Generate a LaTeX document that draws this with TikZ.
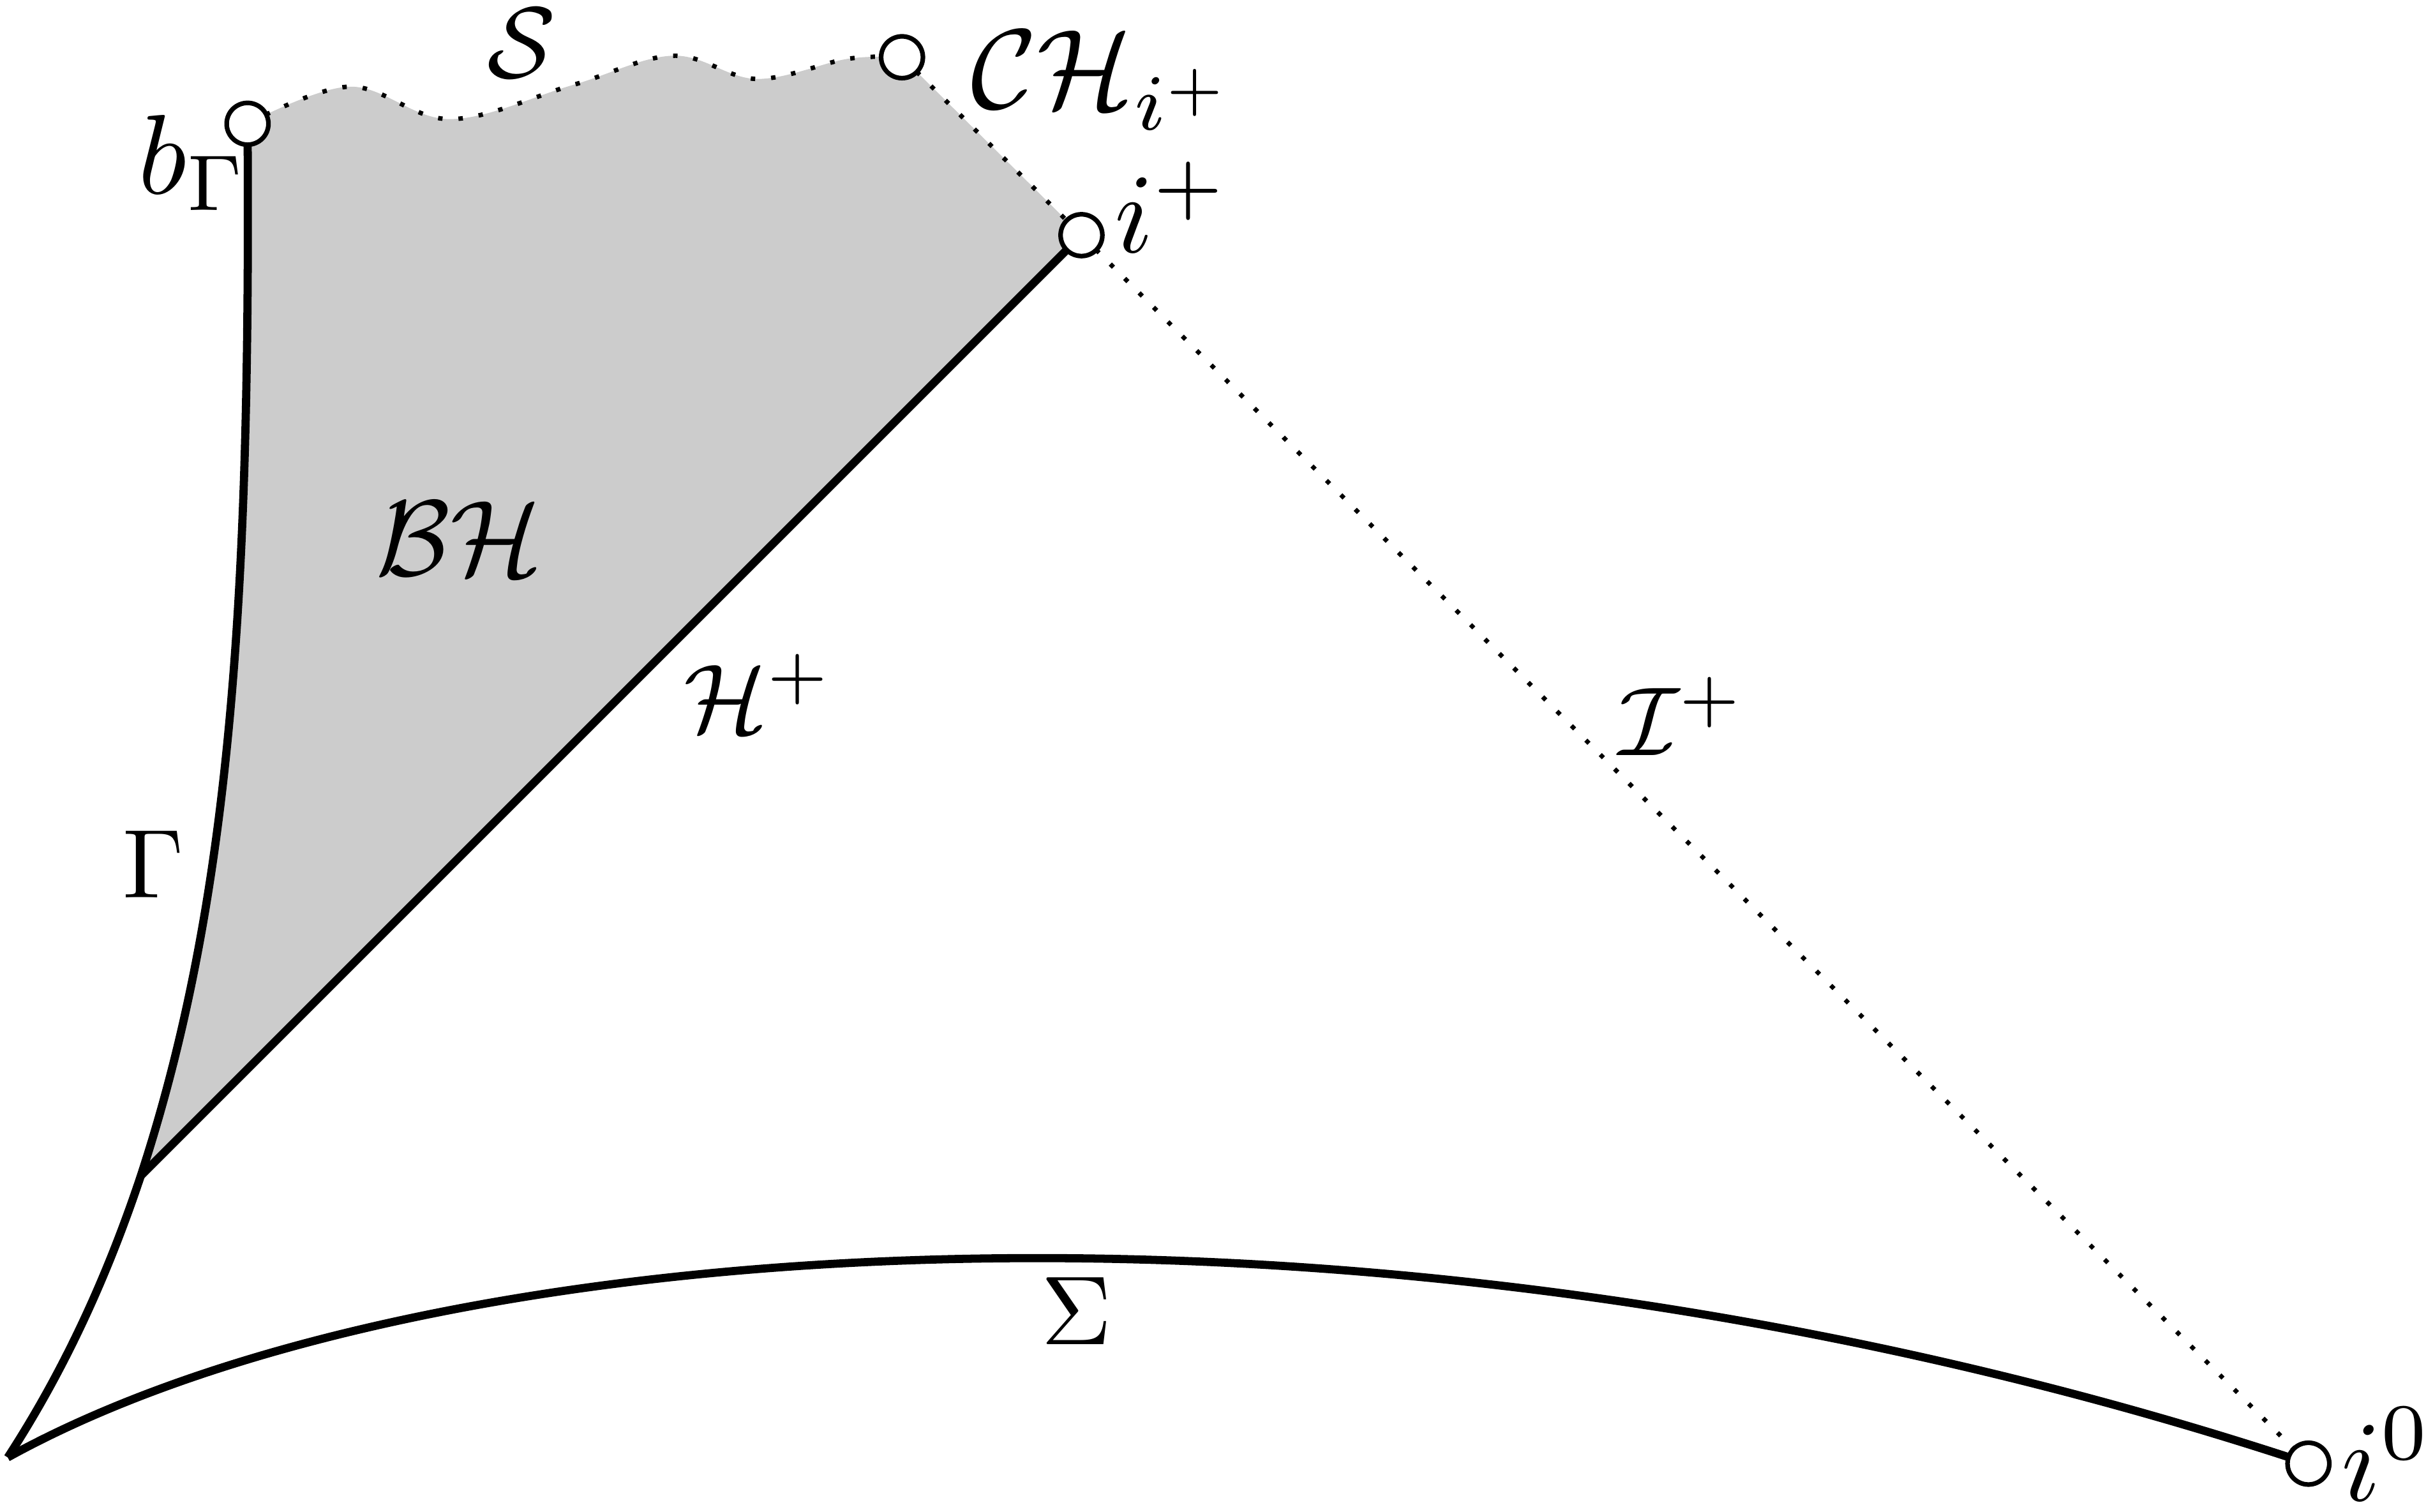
\documentclass[tikz,border=0pt]{standalone}
\begin{document}
\begin{tikzpicture}[x=0.1mm,y=-0.1mm,
  mainline/.style={line width=1.5pt},
  dotline/.style={line width=0.82pt, dash pattern=on 0.82pt off 2.93pt},
  endpt/.style={circle, draw, fill=white, line width=0.85pt, minimum size=2.7mm, inner sep=0pt},
  lbl/.style={inner sep=0pt, font=\fontsize{10}{12}\selectfont, scale=1.8},
  biglbl/.style={inner sep=0pt, font=\fontsize{10}{12}\selectfont, scale=2.08}]
\useasboundingbox (0,0) rectangle (1568,977);
\coordinate (B) at (160,80);
\coordinate (CH) at (583,37);
\coordinate (IP) at (699,152);
\coordinate (I0) at (1492,946);
\coordinate (J) at (91,760);
\coordinate (K) at (5,942);
% shaded black hole region
\fill[black!20] (B) .. controls (162,380) and (150,580) .. (J) -- (IP) -- (CH)
  -- plot[smooth, tension=0.6] coordinates {(583,37) (548,38) (489,51) (435,36) (370,55) (291,77) (226,56) (160,80)} -- cycle;
% singularity S
\draw[dotline] plot[smooth, tension=0.6] coordinates {(160,80) (226,56) (291,77) (370,55) (435,36) (489,51) (548,38) (583,37)};
% Gamma
\draw[mainline] (B) .. controls (162,380) and (150,580) .. (J) .. controls (71,820) and (44,882) .. (K);
% Sigma
\draw[mainline] (K) .. controls (280,790) and (900,750) .. (I0);
% horizon
\draw[mainline] (J) -- (IP);
% null infinity and Cauchy horizon
\draw[dotline] (IP) -- (I0);
\draw[dotline] (CH) -- (IP);
% end points
\node[endpt] (nB) at (B) {};
\node[endpt] (nCH) at (CH) {};
\node[endpt] (nIP) at (IP) {};
\node[endpt] (nI0) at (I0) {};
% labels
\node[lbl, scale=1.03] (lS) at (337,28) {$\mathcal{S}$};
\node[biglbl, anchor=base west] (lb) at (88,125) {$b_\Gamma$};
\node[biglbl, anchor=base west] (lCH) at (626,70) {$\mathcal{CH}_{i^+}$};
\node[biglbl, anchor=base west] (lip) at (719,163) {$i^+$};
\node[lbl, scale=1.1] (lBH) at (297,348) {$\mathcal{BH}$};
\node[lbl] (lH) at (490,448) {$\mathcal{H}^+$};
\node[lbl] (lI) at (1087,463) {$\mathcal{I}^+$};
\node[lbl, anchor=base] (lG) at (99,580) {$\Gamma$};
\node[lbl, anchor=base] (lSig) at (696,869) {$\Sigma$};
\node[lbl, scale=1.17, anchor=base west] (li0) at (1512,970) {$i^0$};
\end{tikzpicture}
\end{document}
